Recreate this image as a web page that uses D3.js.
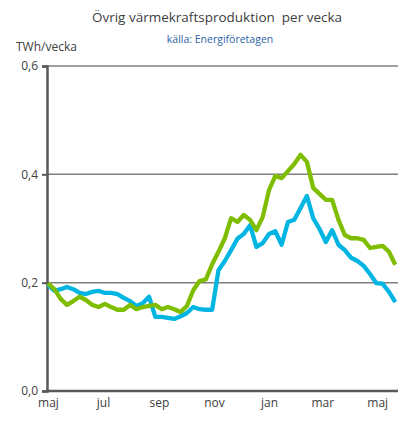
<!DOCTYPE html>
<html><head><meta charset="utf-8">
<script src="https://cdn.jsdelivr.net/npm/d3@7"></script>
<style>body{margin:0;background:#fff}svg{display:block}</style>
</head><body>
<script>
const title = "Övrig värmekraftsproduktion  per vecka";
const subtitle = "källa: Energiföretagen";
const yLabel = "TWh/vecka";
const startDate = new Date(2021, 4, 1);
const endDate = new Date(2022, 4, 24);
const monthTicks = ["2021-05-01","2021-07-01","2021-09-01","2021-11-01","2022-01-01","2022-03-01","2022-05-01"];
const monthLabels = ["maj","jul","sep","nov","jan","mar","maj"];
const yTicks = [0, 0.2, 0.4, 0.6];
const greenValues = [0.199,0.188,0.170,0.159,0.166,0.174,0.168,0.159,0.155,0.161,0.155,0.150,0.150,0.159,0.151,0.155,0.157,0.159,0.151,0.155,0.151,0.146,0.157,0.186,0.203,0.206,0.234,0.257,0.282,0.319,0.312,0.325,0.316,0.297,0.321,0.371,0.397,0.393,0.406,0.419,0.436,0.423,0.375,0.364,0.353,0.353,0.316,0.288,0.282,0.282,0.279,0.264,0.266,0.268,0.257,0.233];
const blueValues = [0.196,0.185,0.188,0.192,0.188,0.181,0.179,0.183,0.185,0.181,0.181,0.179,0.172,0.166,0.157,0.162,0.174,0.137,0.137,0.135,0.133,0.138,0.144,0.155,0.151,0.150,0.150,0.223,0.240,0.260,0.281,0.290,0.306,0.266,0.273,0.290,0.295,0.270,0.312,0.316,0.338,0.360,0.319,0.299,0.275,0.297,0.270,0.260,0.246,0.240,0.231,0.216,0.199,0.198,0.183,0.164];

const W = 401, H = 422;
const svg = d3.select("body").append("svg").attr("width", W).attr("height", H);
const font = "'Open Sans', 'Noto Sans', sans-serif";
const x = d3.scaleTime().domain([startDate, endDate]).range([48, 398]);
const y = d3.scaleLinear().domain([0, 0.6]).range([391, 66]);
const weekDate = i => d3.timeDay.offset(startDate, 7 * i);

svg.append("text").attr("x", 217).attr("y", 22).attr("text-anchor", "middle")
  .style("white-space", "pre")
  .attr("font-family", font).attr("font-size", 13.5).attr("fill", "#404040").text(title);
svg.append("text").attr("x", 220).attr("y", 43).attr("text-anchor", "middle")
  .attr("font-family", font).attr("font-size", 10.5).attr("fill", "#2e63a6").text(subtitle);
svg.append("text").attr("x", 16).attr("y", 51)
  .attr("font-family", font).attr("font-size", 12).attr("fill", "#404040").text(yLabel);

// gridlines
svg.append("g").selectAll("line").data(yTicks.filter(d => d > 0)).join("line")
  .attr("x1", 47).attr("x2", 398).attr("y1", d => y(d)).attr("y2", d => y(d))
  .attr("stroke", "#7f7f7f").attr("stroke-width", 1.5);

// y axis
const yAxis = d3.axisLeft(y).tickValues(yTicks).tickSize(5).tickFormat(d => d3.format(".1f")(d).replace(".", ","));
const gy = svg.append("g").attr("transform", "translate(47,0)").call(yAxis);
gy.select(".domain").attr("stroke", "#595959").attr("stroke-width", 2.5);
gy.selectAll(".tick line").attr("stroke", "#595959").attr("stroke-width", 2);
gy.selectAll(".tick text").attr("font-family", font).attr("font-size", 12).attr("fill", "#404040").attr("x", -9);

// x axis
const xAxis = d3.axisBottom(x).tickValues(monthTicks.map(s => new Date(s + "T00:00:00"))).tickSize(0)
  .tickFormat((d, i) => monthLabels[i]);
const gx = svg.append("g").attr("transform", "translate(0,391)").call(xAxis);
gx.select(".domain").remove();
gx.selectAll(".tick text").attr("font-family", font).attr("font-size", 12).attr("fill", "#404040").attr("dy", "1.05em");
svg.append("line").attr("x1", 46).attr("x2", 398).attr("y1", 391).attr("y2", 391)
  .attr("stroke", "#595959").attr("stroke-width", 2.5);

const line = d3.line().x((d, i) => x(weekDate(i))).y(d => y(d)).curve(d3.curveLinear);
svg.append("path").datum(blueValues).attr("d", line).attr("fill", "none")
  .attr("stroke", "#00b5e2").attr("stroke-width", 4.3).attr("stroke-linejoin", "round");
svg.append("path").datum(greenValues).attr("d", line).attr("fill", "none")
  .attr("stroke", "#7fbd00").attr("stroke-width", 4.3).attr("stroke-linejoin", "round");
</script>
</body></html>
